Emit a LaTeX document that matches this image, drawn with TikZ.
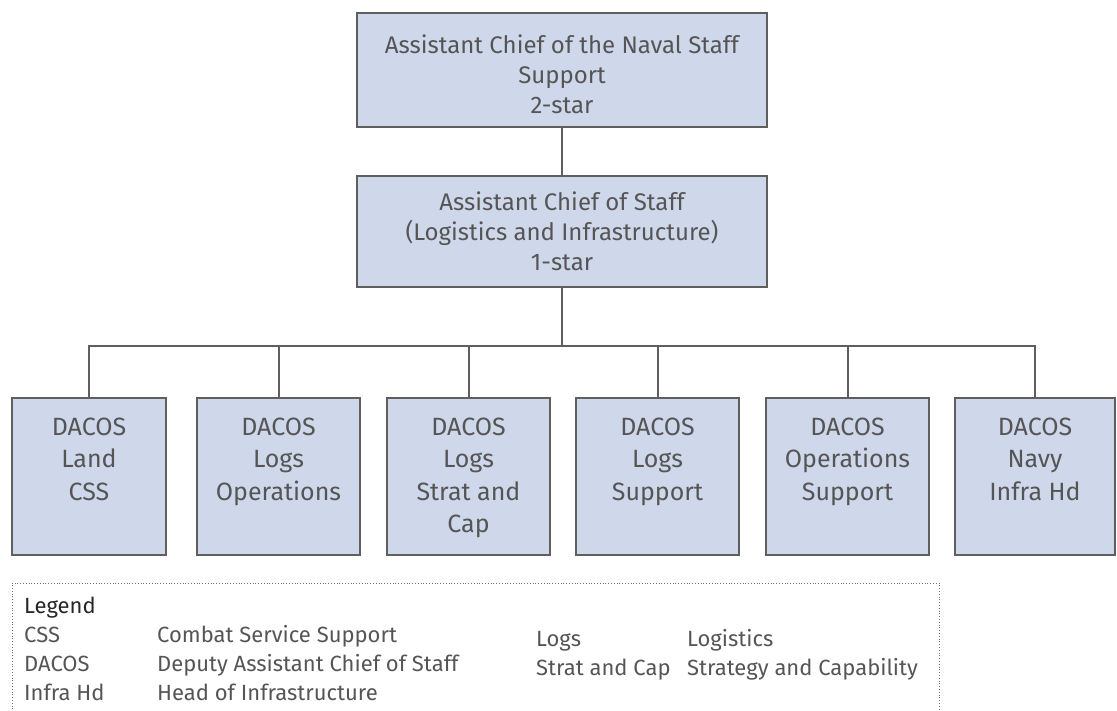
\documentclass[tikz,border=0pt]{standalone}
\usepackage{fontspec}
\setmainfont{Fira Sans}
\definecolor{boxfill}{HTML}{CFD8EB}
\definecolor{boxline}{HTML}{5F5F5F}
\definecolor{txtgray}{HTML}{555555}
\definecolor{legline}{HTML}{707070}
\tikzset{
  orgbox/.style={draw=boxline, line width=2pt, fill=boxfill, text=txtgray, inner sep=0pt,
    font=\fontsize{24}{30}\selectfont},
  unitbox/.style={draw=boxline, line width=2pt, fill=boxfill, text=txtgray, inner sep=0pt,
    font=\fontsize{25}{32.5}\selectfont},
  conn/.style={draw=boxline, line width=2pt},
  legtext/.style={anchor=base west, inner sep=0pt, text=txtgray, font=\fontsize{22}{24}\selectfont},
  leghead/.style={anchor=base west, inner sep=0pt, text=black!85, font=\fontsize{22}{24}\selectfont},
  legframe/.style={draw=legline, line width=0.8pt, dotted}
}
% #1 height, #2 width, #3 first-baseline offset, #4 text
\newcommand{\boxtext}[4]{\parbox[c][#1pt][t]{#2pt}{\centering\rule{0pt}{#3pt}#4}}
\begin{document}
\begin{tikzpicture}[x=1pt,y=-1pt]
\useasboundingbox (0,0) rectangle (1117,710);
% top boxes
\node[orgbox] (acns) at (562,70)
  {\boxtext{114}{410}{40}{Assistant Chief of the Naval Staff\\Support\\2-star}};
\node[orgbox] (acos) at (562,231.5)
  {\boxtext{111}{410}{34}{Assistant Chief of Staff\\(Logistics and Infrastructure)\\1-star}};
% bottom boxes
\node[unitbox] (b1) at (89,476.5) {\boxtext{157}{154}{37}{DACOS\\Land\\CSS}};
\node[unitbox] (b2) at (278.5,476.5) {\boxtext{157}{163}{37}{DACOS\\Logs\\Operations}};
\node[unitbox] (b3) at (468.5,476.5) {\boxtext{157}{163}{37}{DACOS\\Logs\\Strat and\\Cap}};
\node[unitbox] (b4) at (657.5,476.5) {\boxtext{157}{163}{37}{DACOS\\Logs\\Support}};
\node[unitbox] (b5) at (847.5,476.5) {\boxtext{157}{163}{37}{DACOS\\Operations\\Support}};
\node[unitbox] (b6) at (1035,476.5) {\boxtext{157}{160}{37}{DACOS\\Navy\\Infra Hd}};
% connectors
\coordinate (bus) at (562,346);
\draw[conn] (acns.south) -- (acos.north);
\draw[conn] (acos.south) -- (bus);
\draw[conn] (b1.north) -- (b1.north |- bus) -- (b6.north |- bus) -- (b6.north);
\foreach \b in {b2,b3,b4,b5} { \draw[conn] (\b.north) -- (\b.north |- bus); }
% legend frame
\coordinate (lgBL) at (12,712);
\coordinate (lgTL) at (12,583);
\coordinate (lgTR) at (939,583);
\coordinate (lgBR) at (939,712);
\draw[legframe] (lgBL) -- (lgTL) -- (lgTR) -- (lgBR);
% legend text
\node[leghead] (lg) at (24,613) {Legend};
\node[legtext] (k1) at (24,642.7) {CSS};
\node[legtext] (v1) at (157,642.7) {Combat Service Support};
\node[legtext] (k2) at (24,671.7) {DACOS};
\node[legtext] (v2) at (157,671.7) {Deputy Assistant Chief of Staff};
\node[legtext] (k3) at (24,700.7) {Infra Hd};
\node[legtext] (v3) at (157,700.7) {Head of Infrastructure};
\node[legtext] (k4) at (536,646.7) {Logs};
\node[legtext] (v4) at (687,646.7) {Logistics};
\node[legtext] (k5) at (536,675.7) {Strat and Cap};
\node[legtext] (v5) at (687,675.7) {Strategy and Capability};
\end{tikzpicture}
\end{document}
